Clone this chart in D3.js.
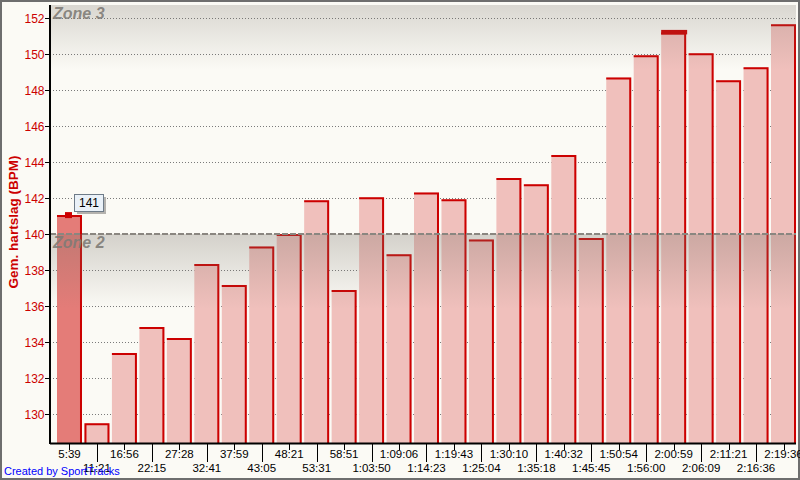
<!DOCTYPE html>
<html><head><meta charset="utf-8">
<script src="https://cdn.jsdelivr.net/npm/d3@7"></script>
<style>
html,body{margin:0;padding:0;background:#fbfaf5;}
svg{display:block;font-family:"Liberation Sans",Arial,sans-serif;}
</style></head>
<body>
<svg id="c" width="800" height="480"></svg>
<script>
const labels = ["5:39","11:21","16:56","22:15","27:28","32:41","37:59","43:05","48:21","53:31","58:51","1:03:50","1:09:06","1:14:23","1:19:43","1:25:04","1:30:10","1:35:18","1:40:32","1:45:45","1:50:54","1:56:00","2:00:59","2:06:09","2:11:21","2:16:36","2:19:36"];
const values = [141.05,129.48,133.39,134.83,134.22,138.33,137.17,139.31,140.0,141.87,136.89,142.04,138.87,142.31,141.93,139.70,143.11,142.76,144.39,139.78,148.70,149.93,151.20,150.04,148.54,149.26,151.65];
const yTicks = [130,132,134,136,138,140,142,144,146,148,150,152];
const zoneNames = ["Zone 2","Zone 3"];
const zoneTops = [140, 153.3];
const yTitle = "Gem. hartslag (BPM)";
const credit = "Created by SportTracks";
const selectedIndex = 0;
const highlightIndex = 22;
const outlinedIndex = 1;

const svg = d3.select("#c");
const L = 50, R = 796, T = 5, B = 443;
const red = "#cc0000";

const y = d3.scaleLinear().domain([130,152]).range([414,18]);
const x = d3.scaleBand().domain(labels).range([57,796]).paddingInner(0.09).paddingOuter(0);

// outer frame
svg.append("rect").attr("x",1).attr("y",1).attr("width",798).attr("height",478)
  .attr("fill","#fbfaf5").attr("stroke","#6e6e6e").attr("stroke-width",2);

const defs = svg.append("defs");
defs.append("clipPath").attr("id","plot").append("rect")
  .attr("x",L).attr("y",T).attr("width",R-L).attr("height",B-T);
const grad = defs.append("linearGradient").attr("id","zg").attr("x1",0).attr("y1",0).attr("x2",0).attr("y2",1);
grad.append("stop").attr("offset","0%").attr("stop-color","rgb(120,114,104)").attr("stop-opacity",0.3);
grad.append("stop").attr("offset","100%").attr("stop-color","rgb(120,114,104)").attr("stop-opacity",0);

const plot = svg.append("g").attr("clip-path","url(#plot)");

// dotted gridlines
plot.selectAll("line.grid").data(yTicks.filter(v => !zoneTops.includes(v))).join("line")
  .attr("x1",L).attr("x2",R).attr("y1",d=>y(d)+0.5).attr("y2",d=>y(d)+0.5)
  .attr("stroke","#7a7a7a").attr("stroke-width",1).attr("stroke-dasharray","1,2");

// bars
const bw = x.bandwidth();
const bars = plot.selectAll("g.bar").data(values).join("g");
bars.append("rect")
  .attr("x",(d,i)=>x(labels[i])).attr("y",d=>y(d))
  .attr("width",bw).attr("height",d=>B-y(d))
  .attr("fill",(d,i)=> i===selectedIndex ? "#e47c78" : "#f0c0bc");
bars.append("path")
  .attr("d",(d,i)=>{
    const x0=x(labels[i]), x1=x0+bw, y0=y(d)+1;
    let p = `M${x0},${y0}H${x1-1}V${B}`;
    if(i===outlinedIndex) p = `M${x0+1},${B}V${y0}H${x1-1}V${B}`;
    return p;
  })
  .attr("fill","none").attr("stroke",red).attr("stroke-width",2);
plot.append("rect").attr("x",x(labels[highlightIndex])).attr("y",y(values[highlightIndex])-2.5)
  .attr("width",bw+1).attr("height",4.5).attr("fill",red);

// zone shading
zoneTops.forEach((zt,i)=>{
  plot.append("rect").attr("x",L).attr("y",y(zt)).attr("width",R-L).attr("height",75)
    .attr("fill","url(#zg)");
});
// zone boundary dashed line
zoneTops.forEach(zt=>{
  plot.append("line").attr("x1",L).attr("x2",R).attr("y1",y(zt)).attr("y2",y(zt))
    .attr("stroke","#8a8680").attr("stroke-width",2).attr("stroke-dasharray","6,2");
});
zoneTops.forEach((zt,i)=>{
  plot.append("text").attr("x",53).attr("y",Math.max(y(zt),T)+13.5)
    .attr("font-size",16).attr("font-weight","bold").attr("font-style","italic")
    .attr("fill","#7e7b76").attr("fill-opacity",0.9).text(zoneNames[i]);
});

// y axis
svg.append("line").attr("x1",L).attr("x2",L).attr("y1",T).attr("y2",B+1)
  .attr("stroke","#000").attr("stroke-width",2);
const yt = svg.append("g");
yt.selectAll("line").data(yTicks).join("line")
  .attr("x1",45).attr("x2",L).attr("y1",d=>y(d)+0.5).attr("y2",d=>y(d)+0.5)
  .attr("stroke","#000").attr("stroke-width",1);
yt.selectAll("text").data(yTicks).join("text")
  .attr("x",44.5).attr("y",d=>y(d)+4.5).attr("text-anchor","end")
  .attr("font-size",12).attr("fill",red).text(d=>d);
svg.append("text").attr("transform","translate(18,222) rotate(-90)")
  .attr("text-anchor","middle").attr("font-size",13.5).attr("font-weight","bold")
  .attr("fill",red).text(yTitle);

// x axis
svg.append("line").attr("x1",L).attr("x2",R).attr("y1",B+0.5).attr("y2",B+0.5)
  .attr("stroke","#000").attr("stroke-width",2);
const xt = svg.append("g");
xt.selectAll("line").data(labels).join("line")
  .attr("x1",d=>Math.round(x(d)+bw/2)+0.5).attr("x2",d=>Math.round(x(d)+bw/2)+0.5)
  .attr("y1",B).attr("y2",(d,i)=> i%2===0 ? 450 : 462)
  .attr("stroke","#000").attr("stroke-width",1);
xt.selectAll("text").data(labels).join("text")
  .attr("x",d=>x(d)+bw/2).attr("y",(d,i)=> i%2===0 ? 457.5 : 471.5)
  .attr("text-anchor","middle").attr("font-size",11.5).attr("fill","#000").text(d=>d);

// selection marker + tooltip
const sx = x(labels[selectedIndex])+bw/2-1, sy = y(values[selectedIndex]);
svg.append("rect").attr("x",sx-3.5).attr("y",sy-3).attr("width",7).attr("height",6).attr("fill",red);
const tipX = 74, tipY = 194;
svg.append("rect").attr("x",tipX+3).attr("y",tipY+3).attr("width",29).attr("height",17).attr("fill","#b4b2ae");
svg.append("rect").attr("x",tipX+0.5).attr("y",tipY+0.5).attr("width",29).attr("height",17)
  .attr("fill","#eaf1f8").attr("stroke","#6e7b88").attr("stroke-width",1);
svg.append("text").attr("x",tipX+15).attr("y",tipY+13).attr("text-anchor","middle")
  .attr("font-size",12).attr("fill","#000").text(Math.round(values[selectedIndex]));

// credit
svg.append("text").attr("x",4).attr("y",474.5).attr("font-size",11).attr("fill","#0000ff").text(credit);
</script>
</body></html>
